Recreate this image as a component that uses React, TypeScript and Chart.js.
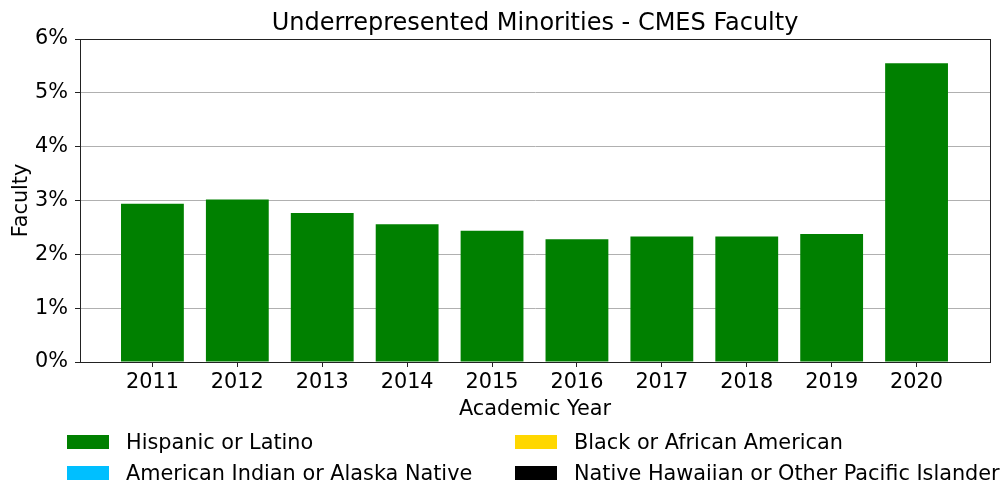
import React, { useEffect, useRef } from "react";
import { Chart, registerables } from "chart.js";

Chart.register(...registerables);

const years = [2011, 2012, 2013, 2014, 2015, 2016, 2017, 2018, 2019, 2020];
const hispanicOrLatino = [2.94, 3.02, 2.77, 2.56, 2.44, 2.28, 2.33, 2.33, 2.38, 5.55];
const blackOrAfricanAmerican = [0, 0, 0, 0, 0, 0, 0, 0, 0, 0];
const americanIndianOrAlaskaNative = [0, 0, 0, 0, 0, 0, 0, 0, 0, 0];
const nativeHawaiianOrPacificIslander = [0, 0, 0, 0, 0, 0, 0, 0, 0, 0];
const yTickValues = [0, 1, 2, 3, 4, 5, 6];

const seriesNames = [
  "Hispanic or Latino",
  "Black or African American",
  "American Indian or Alaska Native",
  "Native Hawaiian or Other Pacific Islander",
];
const seriesColors = ["#008000", "#FFD700", "#00BFFF", "#000000"];
const seriesValues = [
  hispanicOrLatino,
  blackOrAfricanAmerican,
  americanIndianOrAlaskaNative,
  nativeHawaiianOrPacificIslander,
];

const FONT = "'DejaVu Sans', 'Liberation Sans', sans-serif";
const LABEL_SIZE = 20.8;

const frameBox = {
  id: "frameBox",
  afterDraw(chart: any) {
    const { ctx, chartArea } = chart;
    ctx.save();
    ctx.strokeStyle = "#222";
    ctx.lineWidth = 1;
    ctx.strokeRect(
      Math.round(chartArea.left) + 0.5,
      Math.round(chartArea.top) + 0.5,
      Math.round(chartArea.right - chartArea.left),
      Math.round(chartArea.bottom - chartArea.top)
    );
    ctx.restore();
  },
};

export default function App() {
  const canvasRef = useRef<HTMLCanvasElement | null>(null);

  useEffect(() => {
    document.body.style.margin = "0";
    if (!canvasRef.current) return;
    const chart = new Chart(canvasRef.current, {
      type: "bar",
      data: {
        datasets: seriesNames.map((name, i) => ({
          label: name,
          data: years.map((yr, j) => ({ x: yr, y: seriesValues[i][j] })),
          backgroundColor: seriesColors[i],
          borderWidth: 0,
          categoryPercentage: 1,
          barPercentage: 0.74,
        })),
      },
      options: {
        animation: false,
        responsive: false,
        maintainAspectRatio: false,
        layout: { padding: { left: 0, right: 15, top: 0, bottom: 61 } },
        plugins: {
          legend: { display: false },
          tooltip: { enabled: false },
          title: {
            display: true,
            fullSize: false,
            text: "Underrepresented Minorities - CMES Faculty",
            color: "#000",
            font: { family: FONT, size: 24, weight: "normal" },
            padding: { top: 9, bottom: 1.2 },
          },
        },
        scales: {
          x: {
            type: "linear",
            stacked: true,
            offset: false,
            min: 2010.147,
            max: 2020.865,
            afterBuildTicks: (scale: any) => {
              scale.ticks = years.map((v) => ({ value: v }));
            },
            afterFit: (scale: any) => {
              scale.height = 60;
            },
            ticks: {
              color: "#000",
              font: { family: FONT, size: LABEL_SIZE },
              padding: 3,
              maxRotation: 0,
              autoSkip: false,
              callback: (v: any) => String(v),
            },
            grid: {
              display: true,
              offset: false,
              drawOnChartArea: false,
              drawTicks: true,
              tickLength: 5,
              tickColor: "#222",
            },
            border: { display: true, color: "#222", width: 1 },
            title: {
              display: true,
              text: "Academic Year",
              color: "#000",
              font: { family: FONT, size: LABEL_SIZE },
              padding: { top: 0, bottom: 0 },
            },
          },
          y: {
            stacked: true,
            min: 0,
            max: 6,
            afterBuildTicks: (scale: any) => {
              scale.ticks = yTickValues.map((v) => ({ value: v }));
            },
            afterFit: (scale: any) => {
              scale.width = 80;
            },
            ticks: {
              color: "#000",
              font: { family: FONT, size: LABEL_SIZE },
              padding: 7,
              callback: (v: any) => `${v}%`,
            },
            grid: {
              display: true,
              drawOnChartArea: true,
              drawTicks: true,
              tickLength: 5,
              color: "#b0b0b0",
              tickColor: "#222",
              lineWidth: 1,
            },
            border: { display: true, color: "#222", width: 1 },
            title: {
              display: true,
              text: "Faculty",
              color: "#000",
              font: { family: FONT, size: LABEL_SIZE },
              padding: { top: 9, bottom: 0 },
            },
          },
        },
      },
      plugins: [frameBox],
    } as any);
    return () => chart.destroy();
  }, []);

  const legendItems = [
    { idx: 0, left: 67, top: 426 },
    { idx: 2, left: 67, top: 457 },
    { idx: 1, left: 515, top: 426 },
    { idx: 3, left: 515, top: 457 },
  ];

  return (
    <div style={{ position: "relative", width: 1005, height: 483 }}>
      <canvas ref={canvasRef} width={1005} height={483} style={{ display: "block" }} />
      {legendItems.map((it) => (
        <div
          key={it.idx}
          style={{
            position: "absolute",
            left: it.left,
            top: it.top,
            height: 31,
            display: "flex",
            alignItems: "center",
            fontFamily: FONT,
            fontSize: LABEL_SIZE,
            color: "#000",
            whiteSpace: "nowrap",
          }}
        >
          <span
            style={{
              display: "inline-block",
              width: 42,
              height: 14,
              background: seriesColors[it.idx],
              marginRight: 17,
            }}
          />
          <span>{seriesNames[it.idx]}</span>
        </div>
      ))}
    </div>
  );
}
